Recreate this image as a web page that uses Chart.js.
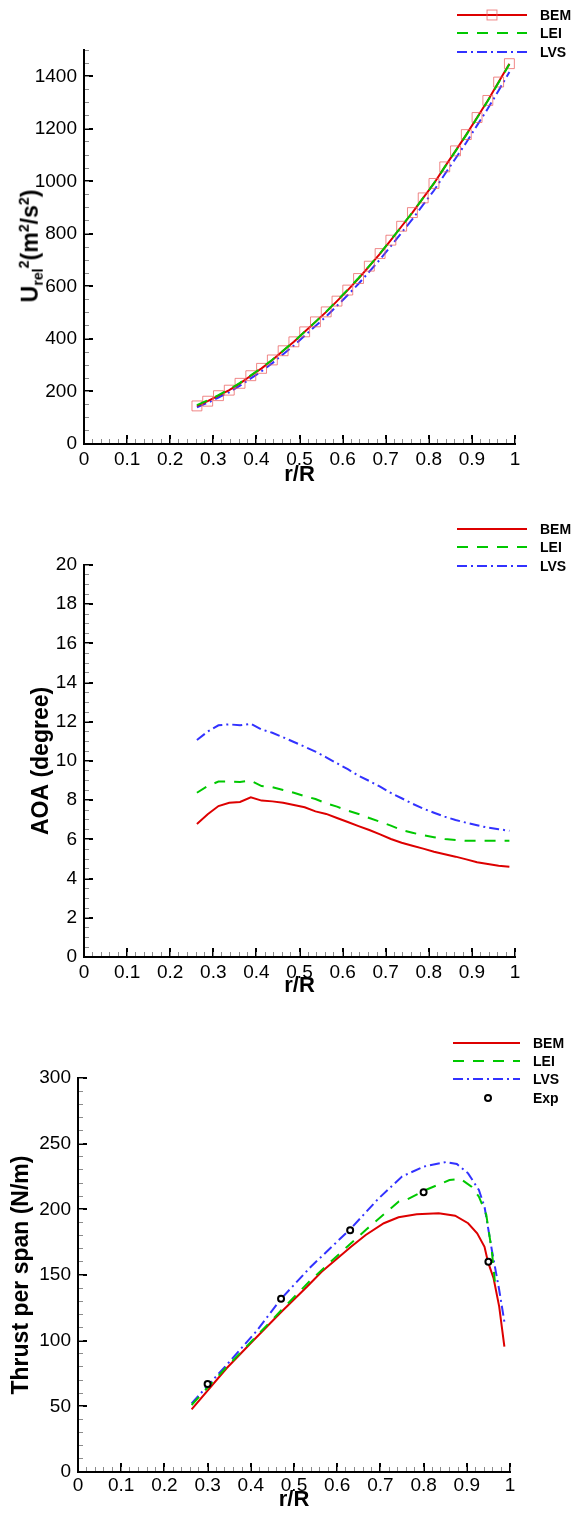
<!DOCTYPE html>
<html lang="en">
<head>
<meta charset="UTF-8" />
<script src="https://cdn.jsdelivr.net/npm/chart.js"></script>
<style>
  html, body { margin: 0; padding: 0; background: #fff; }
  body { position: relative; width: 574px; height: 1513px; overflow: hidden;
         font-family: "Liberation Sans", Arial, sans-serif; }
  .panel { position: absolute; left: 0; width: 574px; }
  .panel canvas { display: block; }
  .legend-row { position: absolute; height: 16px; display: flex; align-items: center;
                font-size: 14px; font-weight: bold; color: #000; white-space: nowrap; }
  .legend-row svg { flex: none; }
  .ytitle { position: absolute; transform: translate(-50%, -50%) rotate(-90deg);
            white-space: nowrap; font-weight: bold; font-size: 23px; color: #000; line-height: 1; }
  .ytitle sub, .ytitle sup { font-size: 0.62em; }
</style>
</head>
<body>
  <div class="panel" style="top:0;height:500px"><canvas id="c1" width="574" height="500"></canvas></div>
  <div class="panel" style="top:500px;height:510px"><canvas id="c2" width="574" height="510"></canvas></div>
  <div class="panel" style="top:1010px;height:503px"><canvas id="c3" width="574" height="503"></canvas></div>
  <div class="ytitle" style="left:31px;top:246px">U<sub>rel</sub><sup>2</sup>(m<sup>2</sup>/s<sup>2</sup>)</div>
  <div id="legends"></div>

<script>
// radial stations (r/R) used by the BEM / LEI / LVS results in the first two plots
const stations = [0.262, 0.287, 0.312, 0.337, 0.362, 0.387, 0.412, 0.437, 0.462, 0.487,
                  0.512, 0.537, 0.562, 0.587, 0.612, 0.637, 0.662, 0.687, 0.712, 0.737,
                  0.762, 0.787, 0.812, 0.837, 0.862, 0.887, 0.912, 0.937, 0.962, 0.987];

// relative velocity squared (m^2/s^2)
const bemU2 = [145, 163, 184, 205, 231, 260, 288, 320, 355, 389,
               427, 465, 503, 544, 586, 630, 677, 725, 776, 829,
               881, 937, 992, 1055, 1116, 1178, 1243, 1308, 1378, 1448];
const leiU2 = [148, 166, 186, 208, 233, 261, 290, 321, 355, 390,
               427, 465, 504, 546, 588, 632, 678, 726, 777, 829,
               882, 937, 993, 1054, 1115, 1177, 1241, 1307, 1376, 1446];
const lvsU2 = [140, 157, 177, 197, 222, 250, 277, 308, 342, 375,
               412, 449, 486, 526, 567, 610, 656, 703, 753, 805,
               856, 911, 965, 1027, 1087, 1148, 1213, 1277, 1346, 1416];

// angle of attack (degree)
const bemAoa = [6.79, 7.28, 7.70, 7.87, 7.91, 8.15, 7.98, 7.94, 7.87, 7.76,
                7.64, 7.43, 7.30, 7.09, 6.89, 6.68, 6.48, 6.26, 6.02, 5.83,
                5.68, 5.53, 5.37, 5.24, 5.12, 4.98, 4.83, 4.74, 4.66, 4.61];
const leiAoa = [8.38, 8.72, 8.95, 8.96, 8.93, 9.00, 8.72, 8.66, 8.52, 8.38,
                8.21, 8.06, 7.84, 7.67, 7.47, 7.30, 7.09, 6.90, 6.70, 6.48,
                6.34, 6.21, 6.11, 6.02, 5.97, 5.93, 5.93, 5.93, 5.93, 5.93];
const lvsAoa = [11.07, 11.50, 11.82, 11.87, 11.82, 11.90, 11.61, 11.44, 11.21, 10.97,
                10.73, 10.48, 10.19, 9.88, 9.58, 9.25, 8.98, 8.69, 8.37, 8.10,
                7.82, 7.57, 7.36, 7.16, 6.99, 6.85, 6.72, 6.60, 6.52, 6.44];

// thrust per span (N/m)
const bemThrustR = [0.263, 0.344, 0.403, 0.471, 0.530, 0.564, 0.632, 0.666, 0.708, 0.742,
                    0.784, 0.835, 0.873, 0.903, 0.924, 0.941, 0.949, 0.962, 0.975, 0.987];
const bemThrust  = [47.7, 79, 99.2, 122, 141, 152.5, 171.5, 180.5, 189.4, 194,
                    196.2, 197, 195.2, 189.4, 181.8, 171.5, 160, 147.5, 125.9, 95.4];
const leiThrustR = [0.263, 0.344, 0.412, 0.471, 0.539, 0.623, 0.666, 0.742, 0.759, 0.801,
                    0.860, 0.886, 0.911, 0.928, 0.945, 0.958, 0.965];
const leiThrust  = [51, 80, 103, 123.3, 146.2, 171.5, 184.3, 205.8, 207, 214.2,
                    222.3, 223.1, 217.2, 209.6, 196, 168, 145];
const lvsThrustR = [0.263, 0.344, 0.412, 0.471, 0.539, 0.632, 0.695, 0.750, 0.801, 0.852,
                    0.877, 0.903, 0.928, 0.941, 0.958, 0.975, 0.987];
const lvsThrust  = [52.3, 81.5, 106.8, 132.2, 156.3, 185.5, 208, 225, 232.6, 236,
                    234.5, 227.4, 214.7, 202, 169, 138.6, 114.4];
const expR      = [0.30, 0.47, 0.63, 0.80, 0.95];
const expThrust = [67, 132, 184, 213, 160];

const RED = '#dd0000', GREEN = '#00c800', BLUE = '#3232ff', PINK = 'rgba(235,95,95,0.75)', MINOR = '#8c8c8c';
const LEI_DASH = [11, 9], LVS_DASH = [10, 4, 2, 4];

Chart.defaults.font.family = '"Liberation Sans", Arial, sans-serif';
Chart.defaults.color = '#000';

function pts(xs, ys) { return xs.map((x, i) => ({ x: x, y: ys[i] })); }
function fmt(v) { return String(Math.round(v * 1000) / 1000); }

function makeScales(c) {
  return {
    x: {
      type: 'linear', axis: 'x', position: 'bottom', weight: 1, min: 0, max: 1,
      ticks: { stepSize: 0.1, padding: c.xPad, font: { size: 19 }, color: '#000',
               maxRotation: 0, minRotation: 0, autoSkip: false, callback: fmt },
      grid: { drawOnChartArea: false, tickLength: -9, tickWidth: 2, lineWidth: 2, tickColor: '#000', color: '#000' },
      border: { display: true, color: '#000', width: 2 },
      title: { display: true, text: 'r/R', color: '#000', font: { size: 22, weight: 'bold' },
               padding: { top: 0, bottom: c.xTitlePad } },
      afterFit: s => { s.height = c.xHeight; }
    },
    xMinor: {
      type: 'linear', axis: 'x', position: 'bottom', weight: 0, min: 0, max: 1,
      ticks: { display: false, stepSize: 0.02, autoSkip: false },
      grid: { drawOnChartArea: false, tickLength: -5, tickWidth: 1, lineWidth: 1, tickColor: MINOR },
      border: { display: false },
      afterFit: s => { s.height = 0; }
    },
    y: {
      type: 'linear', axis: 'y', position: 'left', weight: 1, min: 0, max: c.yMax,
      ticks: { stepSize: c.yStep, includeBounds: false, padding: 16, font: { size: 19 }, color: '#000',
               autoSkip: false, callback: fmt },
      grid: { drawOnChartArea: false, tickLength: -9, tickWidth: 2, lineWidth: 2, tickColor: '#000', color: '#000' },
      border: { display: true, color: '#000', width: 2 },
      title: c.yTitle ? { display: true, text: c.yTitle, color: '#000', font: { size: 23, weight: 'bold' },
                          padding: { top: c.yTitlePad, bottom: 0 } } : { display: false },
      afterFit: s => { s.width = c.yWidth; }
    },
    yMinor: {
      type: 'linear', axis: 'y', position: 'left', weight: 0, min: 0, max: c.yMax,
      ticks: { display: false, stepSize: c.yMinor, autoSkip: false },
      grid: { drawOnChartArea: false, tickLength: -5, tickWidth: 1, lineWidth: 1, tickColor: MINOR },
      border: { display: false },
      afterFit: s => { s.width = 0; }
    }
  };
}

function lineSet(label, data, color, dash, order, extra) {
  return Object.assign({
    label: label, data: data, xAxisID: 'x', yAxisID: 'y',
    borderColor: color, backgroundColor: color, borderWidth: 2, borderDash: dash,
    pointRadius: 0, pointHoverRadius: 0, tension: 0, fill: false, order: order
  }, extra || {});
}

function makeChart(id, datasets, c) {
  return new Chart(document.getElementById(id), {
    type: 'line',
    data: { datasets: datasets },
    options: {
      responsive: false, maintainAspectRatio: false, animation: false, events: [],
      layout: { padding: { top: c.top, right: c.right, left: 0, bottom: 0 } },
      plugins: { legend: { display: false }, tooltip: { enabled: false } },
      scales: makeScales(c)
    }
  });
}

// legend drawn as html rows from the chart's own datasets
function addLegend(chart, left, lineLen, textX, rowYs) {
  const box = document.getElementById('legends');
  chart.data.datasets.forEach((ds, i) => {
    const row = document.createElement('div');
    row.className = 'legend-row';
    row.style.left = left + 'px';
    row.style.top = (rowYs[i] - 8) + 'px';
    let svg = '<svg width="' + textX + '" height="16">';
    if (ds.showLine !== false) {
      svg += '<line x1="0" y1="8" x2="' + lineLen + '" y2="8" stroke="' + ds.borderColor +
             '" stroke-width="2" stroke-dasharray="' + (ds.borderDash || []).join(' ') + '"/>';
    }
    if (ds.pointRadius > 0) {
      const cx = 35;
      if (ds.pointStyle === 'rect') {
        const s = ds.pointRadius * Math.SQRT1_2;
        svg += '<rect x="' + (cx - s) + '" y="' + (8 - s) + '" width="' + 2 * s + '" height="' + 2 * s +
               '" fill="none" stroke="' + ds.pointBorderColor + '" stroke-width="1"/>';
      } else {
        svg += '<circle cx="' + cx + '" cy="8" r="' + ds.pointRadius + '" fill="#fff" stroke="' +
               ds.pointBorderColor + '" stroke-width="' + ds.pointBorderWidth + '"/>';
      }
    }
    svg += '</svg>';
    row.innerHTML = svg + '<span>' + ds.label + '</span>';
    box.appendChild(row);
  });
}

// top: relative velocity
const chart1 = makeChart('c1', [
  lineSet('BEM', pts(stations, bemU2), RED, [], 2, {
    pointRadius: 7, pointStyle: 'rect', pointBorderColor: PINK, pointBackgroundColor: 'rgba(0,0,0,0)', pointBorderWidth: 1
  }),
  lineSet('LEI', pts(stations, leiU2), GREEN, LEI_DASH, 1),
  lineSet('LVS', pts(stations, lvsU2), BLUE, LVS_DASH, 3)
], { top: 50, right: 59, yWidth: 84, xHeight: 56, xPad: 13, xTitlePad: 12,
     yMax: 1500, yStep: 200, yMinor: 50, yTitle: null });

// middle: angle of attack
const chart2 = makeChart('c2', [
  lineSet('BEM', pts(stations, bemAoa), RED, [], 2),
  lineSet('LEI', pts(stations, leiAoa), GREEN, LEI_DASH, 1),
  lineSet('LVS', pts(stations, lvsAoa), BLUE, LVS_DASH, 3)
], { top: 65, right: 59, yWidth: 84, xHeight: 53, xPad: 13, xTitlePad: 11,
     yMax: 20, yStep: 2, yMinor: 0.5, yTitle: 'AOA (degree)', yTitlePad: 28 });

// bottom: thrust per span
const chart3 = makeChart('c3', [
  lineSet('BEM', pts(bemThrustR, bemThrust), RED, [], 3),
  lineSet('LEI', pts(leiThrustR, leiThrust), GREEN, LEI_DASH, 2),
  lineSet('LVS', pts(lvsThrustR, lvsThrust), BLUE, LVS_DASH, 4),
  lineSet('Exp', pts(expR, expThrust), '#000', [], 0, {
    showLine: false, pointRadius: 3, pointStyle: 'circle', pointBorderColor: '#000',
    pointBackgroundColor: '#fff', pointBorderWidth: 2
  })
], { top: 68, right: 64, yWidth: 78, xHeight: 41, xPad: 11, xTitlePad: 0,
     yMax: 300, yStep: 50, yMinor: 10, yTitle: 'Thrust per span (N/m)', yTitlePad: 8 });

addLegend(chart1, 457, 70, 83, [15, 33, 52]);
addLegend(chart2, 457, 70, 83, [529, 547, 566]);
addLegend(chart3, 453, 67, 80, [1043, 1061, 1079, 1098]);
</script>
</body>
</html>
